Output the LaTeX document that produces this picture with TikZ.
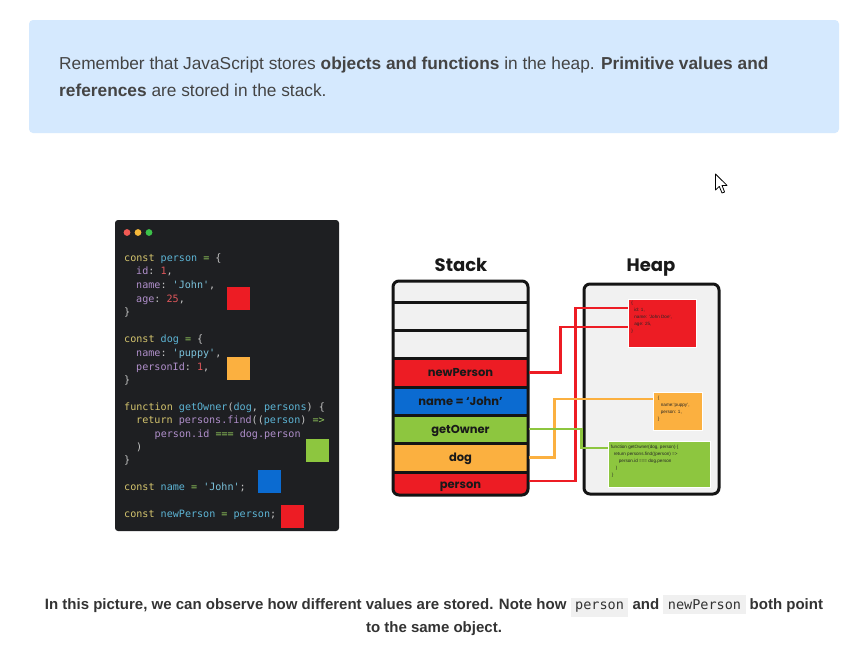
\documentclass[tikz,border=0pt]{standalone}
\usepackage{fontspec}
\setmainfont{Liberation Sans}
\setmonofont{DejaVu Sans Mono}
\newfontfamily\titlefont{Poppins}
\usetikzlibrary{calc}
\definecolor{infobg}{HTML}{D5E9FE}
\definecolor{bodytxt}{HTML}{444444}
\definecolor{boldtxt}{HTML}{333333}
\definecolor{panel}{HTML}{1E1F22}
\definecolor{dotr}{HTML}{F25A54}
\definecolor{doty}{HTML}{F5B83A}
\definecolor{dotg}{HTML}{3CC24A}
\definecolor{ckw}{HTML}{D5C56E}
\definecolor{cid}{HTML}{5DB5D6}
\definecolor{cpr}{HTML}{B08FCB}
\definecolor{cnu}{HTML}{E0575B}
\definecolor{cst}{HTML}{7CC4DE}
\definecolor{cop}{HTML}{8FC45B}
\definecolor{cpu}{HTML}{C4C4C4}
\definecolor{jred}{HTML}{ED1C24}
\definecolor{jblue}{HTML}{0B6BD1}
\definecolor{jgreen}{HTML}{8DC63F}
\definecolor{jorange}{HTML}{FBB040}
\definecolor{jgray}{HTML}{F1F1F1}
\definecolor{chip}{HTML}{F0F0F0}
\newcommand\ckw[1]{\textcolor{ckw}{#1}}
\newcommand\cid[1]{\textcolor{cid}{#1}}
\newcommand\cpr[1]{\textcolor{cpr}{#1}}
\newcommand\cnu[1]{\textcolor{cnu}{#1}}
\newcommand\cst[1]{\textcolor{cst}{#1}}
\newcommand\cop[1]{\textcolor{cop}{#1}}
\newcommand\cpu[1]{\textcolor{cpu}{#1}}
\newcommand\chiptext[1]{{\setlength\fboxsep{4.5pt}\colorbox{chip}{\mdseries\ttfamily\fontsize{13.5}{15}\selectfont #1}}}
\begin{document}
\begin{tikzpicture}[x=1pt,y=-1pt,
  codeline/.style={anchor=base west,inner sep=0pt,font=\ttfamily\fontsize{10.1}{12}\selectfont,text=cpu},
  sq/.style={minimum width=23pt,minimum height=23pt,inner sep=0pt},
  rowbox/.style={minimum width=136pt,inner sep=0pt,text height=8pt,text depth=0pt,font=\titlefont\bfseries\fontsize{11.5}{12}\selectfont,text=black!90},
  heapobj/.style={inner sep=0pt,draw=white,line width=0.6pt},
  heaptxt/.style={anchor=north west,inner sep=0pt,align=left,font=\fontsize{4.6}{7}\selectfont,text=black!85},
  conn/.style={line width=2.6pt,line join=miter},
  frame/.style={draw=black!92,line width=3pt,rounded corners=6pt}]
\useasboundingbox (0,0) rectangle (846,645);
\fill[white] (0,0) rectangle (846,645);
% info box
\node[fill=infobg,rounded corners=4pt,minimum width=810pt,minimum height=113pt,inner sep=0pt] (info) at (434,76.5) {};
\node[anchor=base west,inner sep=0pt,text=bodytxt,font=\fontsize{17.3}{27}\selectfont,align=left] (infotxt) at (59,96)
  {Remember that JavaScript stores \textbf{objects and functions} in the heap. \textbf{Primitive values and}\\
   \textbf{references} are stored in the stack.};
% code panel
\node[fill=panel,rounded corners=3pt,minimum width=224pt,minimum height=311pt,inner sep=0pt] (code) at (227,375.5) {};
\fill[dotr] (127,232.5) circle (3.4);
\fill[doty] (138,232.5) circle (3.4);
\fill[dotg] (149,232.5) circle (3.4);
\node[codeline] (l1) at (124,261) {\ckw{const} \cid{person} \cop{=} \{};
\node[codeline] (l2) at (136,274.5) {\cpr{id}: \cnu{1},};
\node[codeline] (l3) at (136,288) {\cpr{name}: \cst{'John'},};
\node[codeline] (l4) at (136,302) {\cpr{age}: \cnu{25},};
\node[codeline] (l5) at (124,315) {\}};
\node[codeline] (l6) at (124,342) {\ckw{const} \cid{dog} \cop{=} \{};
\node[codeline] (l7) at (136,356) {\cpr{name}: \cst{'puppy'},};
\node[codeline] (l8) at (136,370) {\cpr{personId}: \cnu{1},};
\node[codeline] (l9) at (124,383) {\}};
\node[codeline] (l10) at (124,410) {\ckw{function} \cid{getOwner}(\cid{dog}, \cid{persons}) \{};
\node[codeline] (l11) at (136,423.5) {\ckw{return} \cpr{persons.find}((\cid{person}) \cop{=>}};
\node[codeline] (l12) at (154.5,437) {\cpr{person.id} \cop{===} \cpr{dog.person}};
\node[codeline] (l13) at (136,450) {)};
\node[codeline] (l14) at (124,463) {\}};
\node[codeline] (l15) at (124,490) {\ckw{const} \cid{name} \cop{=} \cst{'John'};};
\node[codeline] (l16) at (124,517) {\ckw{const} \cid{newPerson} \cop{=} \cid{person};};
\node[sq,fill=jred] (s1) at (238.5,298) {};
\node[sq,fill=jorange] (s2) at (238.5,368.5) {};
\node[sq,fill=jgreen] (s3) at (317.5,450.5) {};
\node[sq,fill=jblue] (s4) at (269.5,481.5) {};
\node[sq,fill=jred] (s5) at (292.5,516.5) {};
% stack
\node[font=\titlefont\bfseries\fontsize{18}{20}\selectfont,text=black!90,inner sep=0pt] (stacktitle) at (461,265) {Stack};
\begin{scope}
\clip[rounded corners=6pt] (393,281) rectangle (528,495);
\fill[jgray] (393,281) rectangle (528,495);
\node[rowbox,fill=jred,minimum height=29pt] (np) at (460.5,372.5) {newPerson};
\node[rowbox,fill=jblue,minimum height=28pt] (nm) at (460.5,401) {name = ‘John’};
\node[rowbox,fill=jgreen,minimum height=28pt] (go) at (460.5,429) {getOwner};
\node[rowbox,fill=jorange,minimum height=29pt] (dg) at (460.5,457.5) {dog};
\node[rowbox,fill=jred,minimum height=24pt] (ps) at (460.5,484) {person};
\end{scope}
\foreach \yy in {302,330,358,387,415,443,472}
  \draw[line width=3pt,black!92] (393,\yy) -- (528,\yy);
\draw[frame] (393,281) rectangle (528,495);
% heap
\node[font=\titlefont\bfseries\fontsize{18}{20}\selectfont,text=black!90,inner sep=0pt] (heaptitle) at (651,268) {Heap};
\draw[frame,fill=jgray] (584,284) rectangle (719,494);
\node[heapobj,fill=jred,minimum width=68pt,minimum height=48pt] (hred) at (662,323) {};
\node[heaptxt] (hredt) at ($(hred.north west)+(3.5,2)$) {\{\\\hspace*{3pt}id: 1,\\\hspace*{3pt}name: 'John Doe',\\\hspace*{3pt}age: 25,\\\}};
\node[heapobj,fill=jorange,minimum width=49pt,minimum height=38pt] (hor) at (677.5,411) {};
\node[heaptxt] (hort) at ($(hor.north west)+(5,4)$) {\{\\\hspace*{3pt}name:'puppy',\\\hspace*{3pt}person: 1,\\\}};
\node[heapobj,fill=jgreen,minimum width=102pt,minimum height=46pt] (hgr) at (659,464) {};
\node[heaptxt] (hgrt) at ($(hgr.north west)+(3,4)$) {function getOwner(dog, person) \{\\\hspace*{3pt}return persons.find((person) =>\\\hspace*{8pt}person.id === dog.person\\\hspace*{5pt})\\\hspace*{1pt}\}};
% connectors
\draw[conn,jred] (np.east) -- ++(32,0) |- ([yshift=-4pt]hred.west);
\draw[conn,jred] ([yshift=3pt]ps.east) -- ++(47,0) |- ([yshift=15pt]hred.west);
\draw[conn,jorange] (dg.east) -- ++(26,0) |- ([yshift=12pt]hor.west);
\draw[conn,jgreen] (go.east) -- ++(53,0) |- ([yshift=16pt]hgr.west);
% cursor
\draw[fill=white,draw=black,line width=0.8pt,line join=round]
  (715.5,174) -- (715.5,190) -- (719.3,186.4) -- (722,193) -- (724.6,192) -- (722,185.4) -- (727,185.4) -- cycle;
% caption
\node[inner sep=0pt,text=boldtxt,align=center,font=\bfseries\fontsize{15}{23}\selectfont] (caption) at (434,615.5)
  {In this picture, we can observe how different values are stored. Note how \chiptext{person} and \chiptext{newPerson} both point\\
   to the same object.};
\end{tikzpicture}
\end{document}
